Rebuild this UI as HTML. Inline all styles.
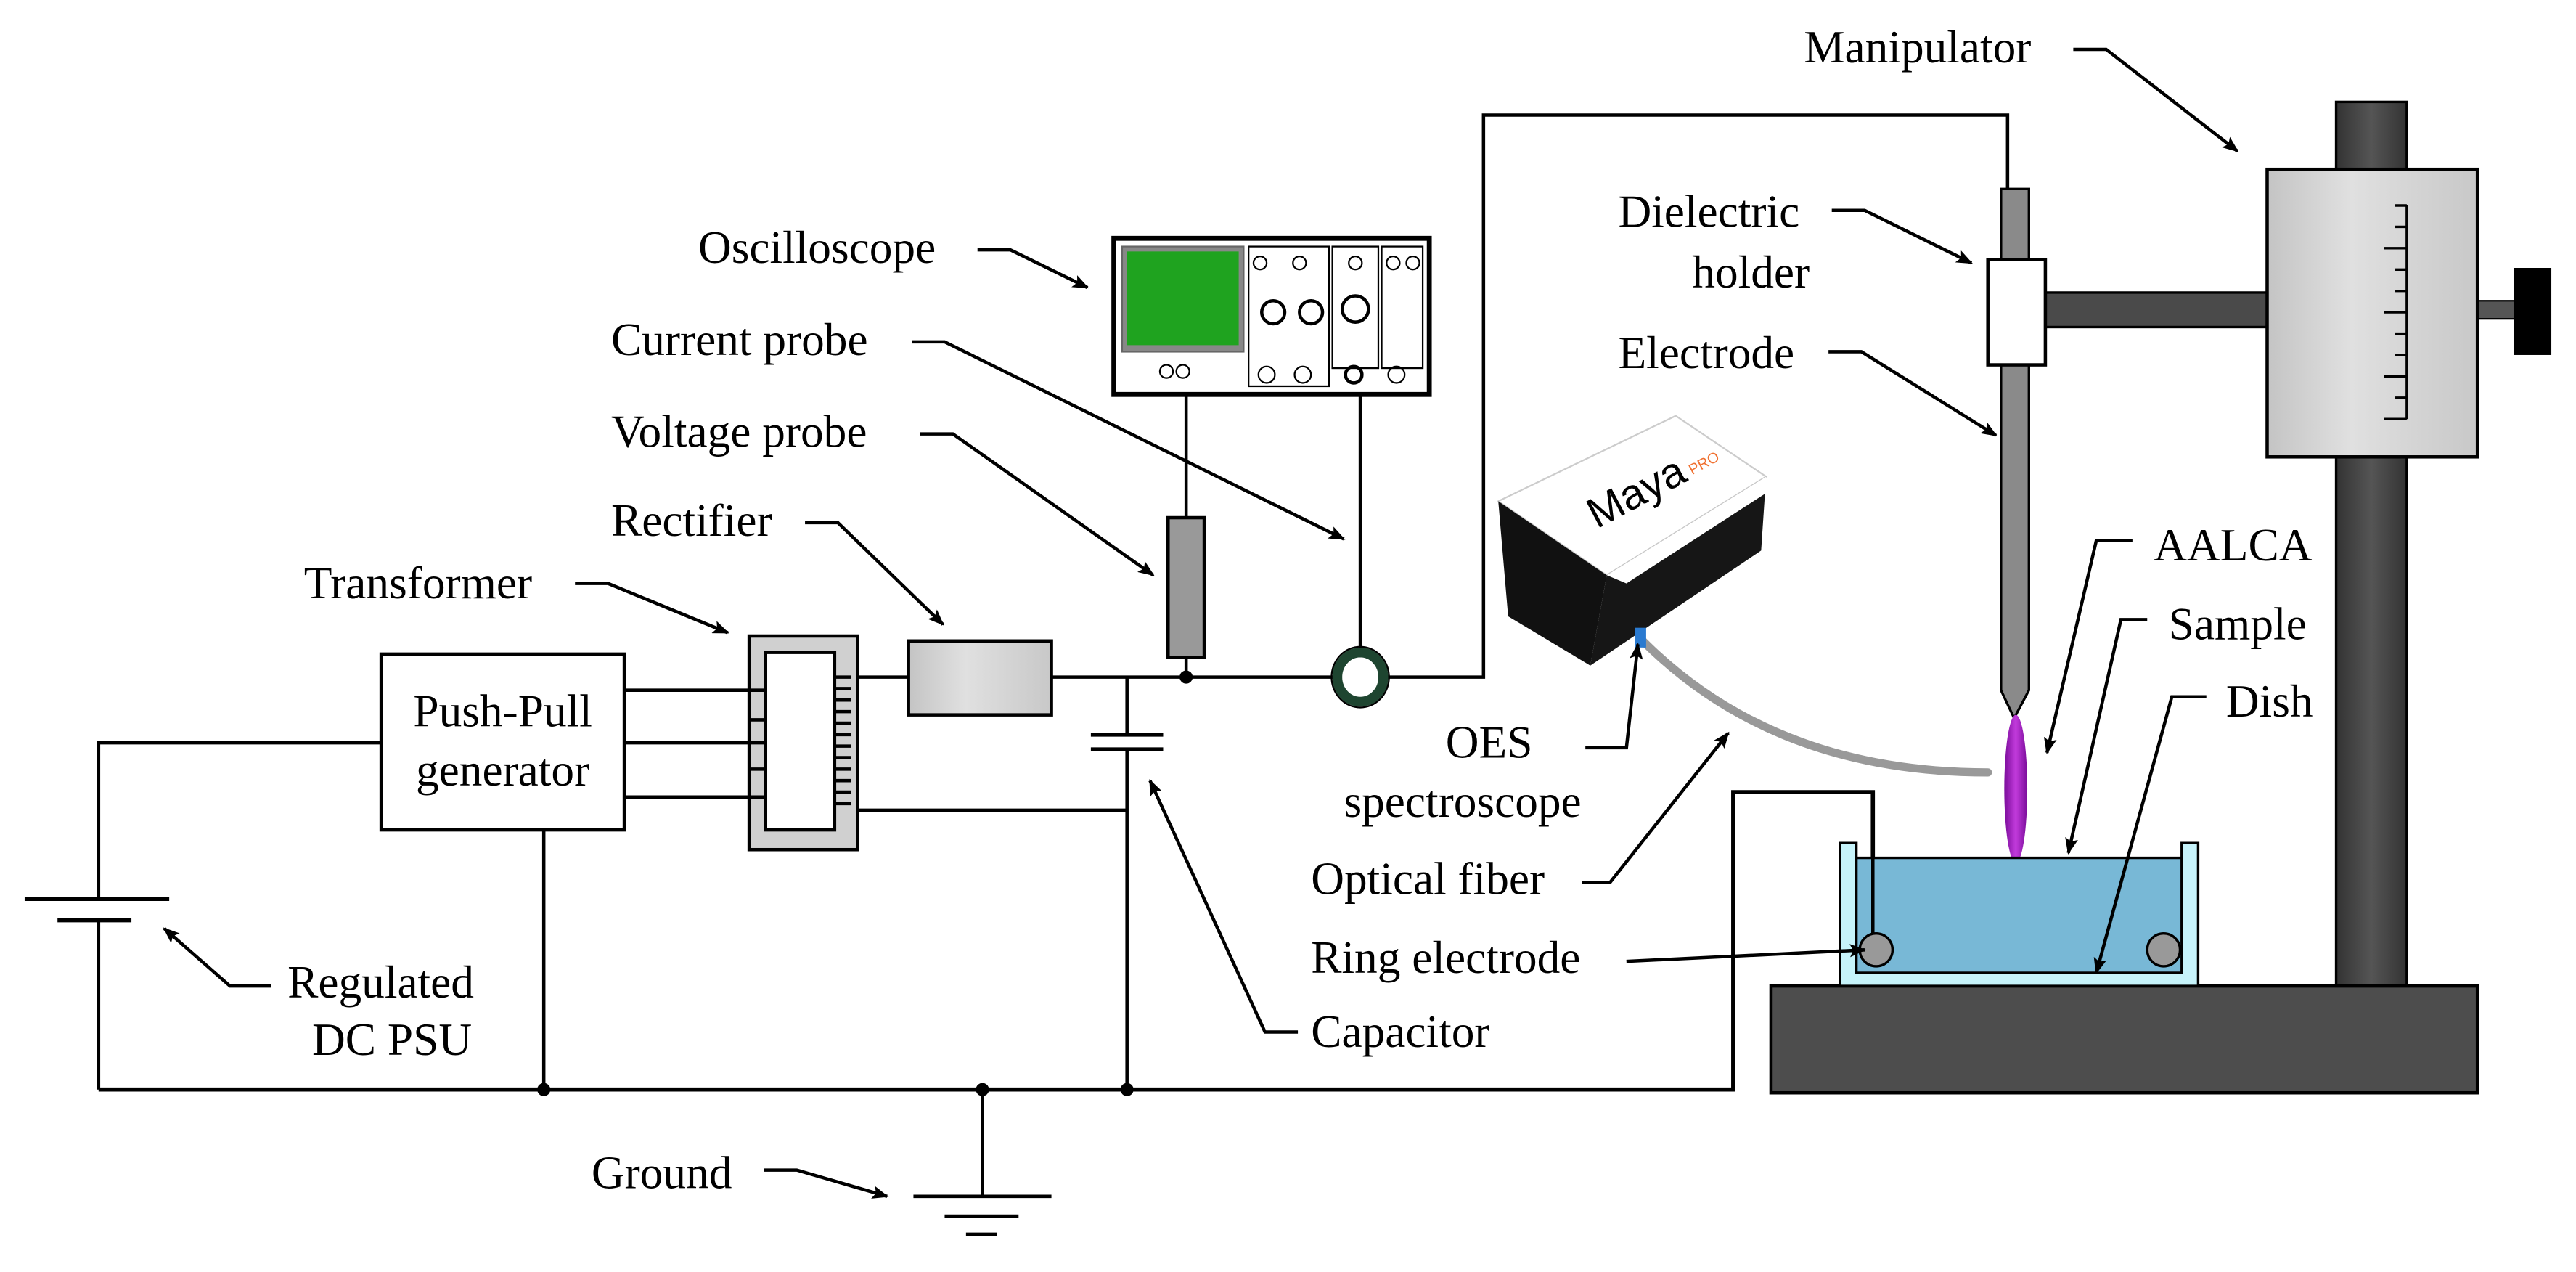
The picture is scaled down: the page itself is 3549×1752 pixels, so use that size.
<!DOCTYPE html>
<html><head><meta charset="utf-8"><style>
html,body{margin:0;padding:0;background:#fff;}
svg{display:block;}
text{font-family:"Liberation Serif",serif;font-size:28px;fill:#000;}
</style></head><body>
<svg width="3549" height="1752" viewBox="0 0 1568 774" xmlns="http://www.w3.org/2000/svg">
<defs>
<marker id="ar" markerWidth="10" markerHeight="8" refX="9" refY="4" orient="auto" markerUnits="userSpaceOnUse"><path d="M0,0 L10,4 L0,8 L2,4 z" fill="#000"/></marker>
<linearGradient id="gg" x1="0" x2="1"><stop offset="0" stop-color="#c4c4c4"/><stop offset="0.4" stop-color="#e0e0e0"/><stop offset="1" stop-color="#c8c8c8"/></linearGradient>
<linearGradient id="pole" x1="0" x2="1"><stop offset="0" stop-color="#333"/><stop offset="0.5" stop-color="#555"/><stop offset="1" stop-color="#333"/></linearGradient>
<linearGradient id="pl" x1="0" x2="1"><stop offset="0" stop-color="#7a0c9a"/><stop offset="0.5" stop-color="#c23bdc"/><stop offset="1" stop-color="#7a0c9a"/></linearGradient>
</defs>
<g stroke="#000" stroke-width="2" fill="none">
<path d="M60,663 H1055 V482 H1140 V578" stroke-width="2.5"/>
<path d="M232,452 H60 V547"/>
<path d="M60,560 V663"/>
<path d="M331,505 V663"/>
<path d="M598,663 V728"/>
<path d="M556,728 H640 M575,740 H620 M588,751 H607"/>
<path d="M15,547 H103" stroke-width="2.5"/>
<path d="M35,560 H80" stroke-width="2.5"/>
<path d="M380,420 H465 M380,452 H465 M380,485 H465"/>
<path d="M508,412 H553 M640,412 H816 M840,412 H903 V70 H1222 V118"/>
<path d="M508,493 H686"/>
<path d="M686,412 V447 M686,456 V663"/>
<path d="M664,447 H708 M664,456 H708" stroke-width="2.5"/>
<path d="M722,400 V412 M722,315 V240 M828,400 V240"/>
</g>
<rect x="232" y="398" width="148" height="107" fill="#fff" stroke="#000" stroke-width="2"/>
<text x="306" y="442" text-anchor="middle">Push-Pull</text>
<text x="306" y="478" text-anchor="middle">generator</text>
<rect x="456" y="387" width="66" height="130" fill="#d0d0d0" stroke="#000" stroke-width="2"/>
<rect x="466" y="397" width="42" height="108" fill="#fff" stroke="#000" stroke-width="2"/>
<g stroke="#000" stroke-width="2">
<path d="M456,420H466 M456,438H466 M456,452H466 M456,468H466 M456,485H466"/>
<path d="M508,412H518 M508,419H518 M508,426H518 M508,433H518 M508,440H518 M508,447H518 M508,454H518 M508,461H518 M508,468H518 M508,475H518 M508,482H518 M508,489H518"/>
</g>
<rect x="553" y="390" width="87" height="45" fill="url(#gg)" stroke="#000" stroke-width="2"/>
<rect x="711" y="315" width="22" height="85" fill="#999" stroke="#000" stroke-width="2"/>
<circle cx="722" cy="412" r="4" fill="#000"/>
<circle cx="331" cy="663" r="4" fill="#000"/><circle cx="598" cy="663" r="4" fill="#000"/><circle cx="686" cy="663" r="4" fill="#000"/>
<ellipse cx="828" cy="412" rx="14" ry="15" fill="none" stroke="#1e4530" stroke-width="6"/>
<ellipse cx="828" cy="412" rx="17.5" ry="18.5" fill="none" stroke="#000" stroke-width="1"/>
<rect x="678" y="145" width="192" height="95" fill="#fff" stroke="#000" stroke-width="3"/>
<rect x="683" y="150" width="74" height="64" fill="#888" stroke="#666"/>
<rect x="686" y="153" width="68" height="57" fill="#1fa31f"/>
<g stroke="#000" fill="none" stroke-width="1">
<rect x="760" y="150" width="49" height="85"/><rect x="811" y="150" width="28" height="74"/><rect x="841" y="150" width="25" height="74"/>
<circle cx="775" cy="190" r="7" stroke-width="2"/><circle cx="798" cy="190" r="7" stroke-width="2"/><circle cx="825" cy="188" r="8" stroke-width="2"/>
<circle cx="767" cy="160" r="4"/><circle cx="791" cy="160" r="4"/><circle cx="825" cy="160" r="4"/><circle cx="848" cy="160" r="4"/><circle cx="860" cy="160" r="4"/>
<circle cx="771" cy="228" r="5"/><circle cx="793" cy="228" r="5"/><circle cx="824" cy="228" r="5" stroke-width="2"/><circle cx="850" cy="228" r="5"/>
<circle cx="710" cy="226" r="4"/><circle cx="720" cy="226" r="4"/>
</g>
<!-- stand -->
<rect x="1422" y="62" width="43" height="540" fill="url(#pole)" stroke="#000" stroke-width="1.5"/>
<rect x="1245" y="178" width="136" height="21" fill="#4a4a4a" stroke="#000" stroke-width="1.5"/>
<rect x="1508" y="183" width="24" height="11" fill="#555" stroke="#000"/>
<rect x="1530" y="163" width="23" height="53" fill="#000"/>
<rect x="1380" y="103" width="128" height="175" fill="url(#gg)" stroke="#000" stroke-width="2"/>
<g stroke="#000" stroke-width="1.5">
<path d="M1465,125 V255"/>
<path d="M1458,125H1465 M1458,138H1465 M1451,151H1465 M1458,164H1465 M1458,177H1465 M1451,190H1465 M1458,203H1465 M1458,216H1465 M1451,229H1465 M1458,242H1465 M1451,255H1465"/>
</g>
<rect x="1078" y="600" width="430" height="65" fill="#4d4d4d" stroke="#000" stroke-width="2"/>
<path d="M1218,115 H1235 V420 L1226,437 L1218,420 Z" fill="#8a8a8a" stroke="#000" stroke-width="1.5"/>
<rect x="1210" y="158" width="35" height="64" fill="#fff" stroke="#000" stroke-width="2"/>
<ellipse cx="1227" cy="480" rx="7" ry="45" fill="url(#pl)"/>
<path d="M1120,513 H1130 V592 H1328 V513 H1338 V600 H1120 Z" fill="#c6f3fa" stroke="#000" stroke-width="1.5"/>
<rect x="1130" y="522" width="198" height="70" fill="#78b8d6" stroke="#000" stroke-width="1.5"/>
<circle cx="1142" cy="578" r="10" fill="#999" stroke="#000" stroke-width="1.5"/>
<circle cx="1317" cy="578" r="10" fill="#999" stroke="#000" stroke-width="1.5"/>
<path d="M1140,482 V568" stroke="#000" stroke-width="2"/>
<path d="M1000,390 Q1080,470 1210,470" fill="none" stroke="#999" stroke-width="5" stroke-linecap="round"/>
<polygon points="912,305 1020,253 1075,290 978,350" fill="#fff" stroke="#ccc"/>
<polygon points="912,305 978,350 968,405 918,375" fill="#111"/>
<polygon points="978,350 1075,290 1072,335 968,405" fill="#161616"/>
<polygon points="978,350 1075,290 1075,300 990,355" fill="#fff"/>
<text x="0" y="0" transform="translate(972,322) rotate(-28)" style="font-family:'Liberation Sans',sans-serif;font-size:26px;">Maya</text>
<text x="0" y="0" transform="translate(1030,289) rotate(-28)" style="font-family:'Liberation Sans',sans-serif;font-size:9px;fill:#f07030;">PRO</text>
<rect x="995" y="382" width="7" height="12" fill="#2a7ad0"/>
<!-- labels -->
<text x="425" y="160">Oscilloscope</text>
<text x="372" y="216">Current probe</text>
<text x="372" y="272">Voltage probe</text>
<text x="372" y="326">Rectifier</text>
<text x="185" y="364">Transformer</text>
<text x="175" y="607">Regulated</text>
<text x="190" y="642">DC PSU</text>
<text x="360" y="723">Ground</text>
<text x="798" y="637">Capacitor</text>
<text x="880" y="461">OES</text>
<text x="818" y="497">spectroscope</text>
<text x="798" y="544">Optical fiber</text>
<text x="798" y="592">Ring electrode</text>
<text x="985" y="138">Dielectric</text>
<text x="1030" y="175">holder</text>
<text x="985" y="224">Electrode</text>
<text x="1098" y="38">Manipulator</text>
<text x="1311" y="341">AALCA</text>
<text x="1320" y="389">Sample</text>
<text x="1355" y="436">Dish</text>
<g stroke="#000" stroke-width="2" fill="none" marker-end="url(#ar)">
<path d="M595,152 H615 L662,175"/>
<path d="M555,208 H575 L818,328"/>
<path d="M560,264 H580 L702,350"/>
<path d="M490,318 H510 L574,380"/>
<path d="M350,355 H370 L443,385"/>
<path d="M165,600 H140 L100,565"/>
<path d="M465,712 H485 L540,728"/>
<path d="M790,628 H770 L700,475"/>
<path d="M965,455 H990 L997,392"/>
<path d="M963,537 H980 L1052,446"/>
<path d="M990,585 L1135,578"/>
<path d="M1115,128 H1135 L1200,160"/>
<path d="M1113,214 H1133 L1215,265"/>
<path d="M1262,30 H1282 L1362,92"/>
<path d="M1298,329 H1276 L1246,458"/>
<path d="M1307,377 H1291 L1259,519"/>
<path d="M1343,424 H1322 L1276,592"/>
</g>
</svg>
</body></html>
